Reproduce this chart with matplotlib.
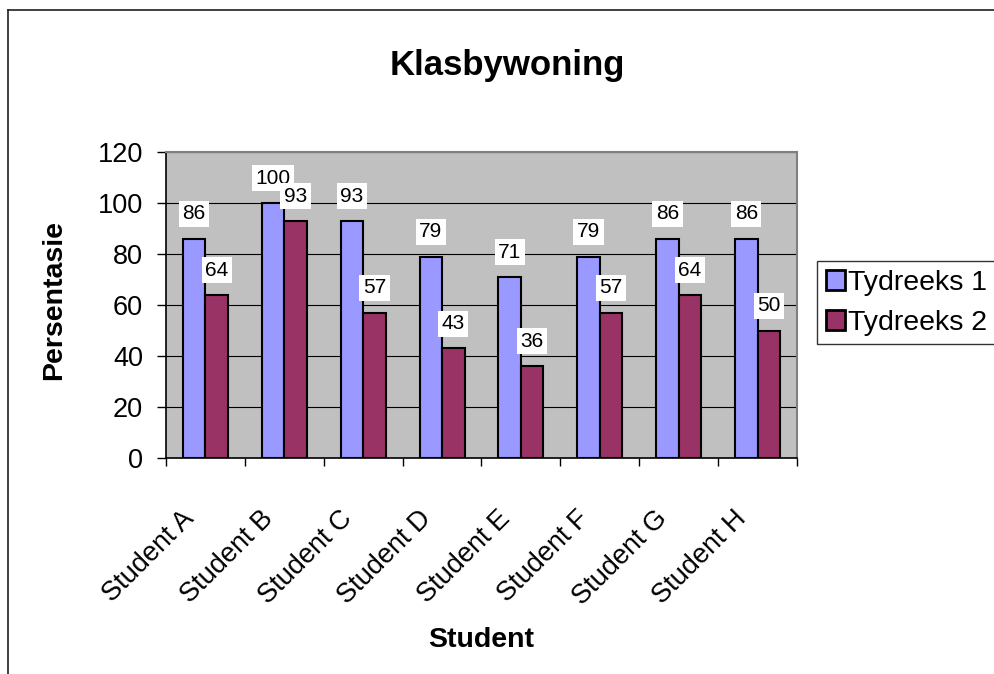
import matplotlib
matplotlib.use("Agg")
import matplotlib.pyplot as plt
import matplotlib.transforms as mtransforms
import numpy as np
from matplotlib.lines import Line2D
from matplotlib.patches import Patch

plt.rcParams['font.family'] = ['Liberation Sans', 'DejaVu Sans']

categories = ["Student A", "Student B", "Student C", "Student D",
              "Student E", "Student F", "Student G", "Student H"]
series1 = [86, 100, 93, 79, 71, 79, 86, 86]
series2 = [64, 93, 57, 43, 36, 57, 64, 50]
series_names = ["Tydreeks 1", "Tydreeks 2"]
yticks = [0, 20, 40, 60, 80, 100, 120]

W, H = 995, 674
fig = plt.figure(figsize=(W / 100, H / 100), dpi=100)
ax = fig.add_axes([166 / W, 1 - 458 / H, (797 - 166) / W, (458 - 152) / H])
ax.set_facecolor("#C0C0C0")

x = np.arange(len(categories))
bw = 1 / 3.5
b1 = ax.bar(x - bw / 2, series1, bw, color="#9999FF", edgecolor="black", linewidth=1.5, zorder=3)
b2 = ax.bar(x + bw / 2, series2, bw, color="#993366", edgecolor="black", linewidth=1.5, zorder=3)

ax.set_xlim(-0.5, len(categories) - 0.5)
ax.set_ylim(0, 120)
ax.set_yticks(yticks)
ax.set_yticklabels([str(v) for v in yticks], fontsize=19.5)
ax.grid(axis="y", color="black", linewidth=0.8, zorder=1)
ax.set_axisbelow(True)

ax.set_xticks(np.arange(len(categories) + 1) - 0.5)
ax.set_xticklabels([])
ax.set_xticks(x, minor=True)
ax.set_xticklabels(categories, minor=True, rotation=45, ha="right", va="top",
                   rotation_mode="anchor", fontsize=19.5)
ax.tick_params(axis="x", which="minor", length=0, pad=34)
ax.tick_params(axis="x", which="major", length=6, width=1, direction="out")
ax.tick_params(axis="y", length=6.5, width=1, direction="out", pad=10)
shift = mtransforms.ScaledTranslation(-24 / 100, 0, fig.dpi_scale_trans)
for lbl in ax.get_xticklabels(minor=True):
    lbl.set_transform(lbl.get_transform() + shift)

for s in ["top", "right"]:
    ax.spines[s].set_color("#808080")
    ax.spines[s].set_linewidth(1.5)
for s in ["left", "bottom"]:
    ax.spines[s].set_color("black")
    ax.spines[s].set_linewidth(1.2)

for bars, vals in ((b1, series1), (b2, series2)):
    for rect, v in zip(bars, vals):
        ax.annotate(str(v), (rect.get_x() + rect.get_width() / 2, v),
                    xytext=(0, 11), textcoords="offset points",
                    ha="center", va="bottom", fontsize=15, zorder=5,
                    bbox=dict(facecolor="white", edgecolor="none", pad=2.5))

fig.text(507.5 / W, 1 - 75 / H, "Klasbywoning", ha="center", va="baseline",
         fontsize=25, fontweight="bold")
fig.text(481 / W, 1 - 647 / H, "Student", ha="center", va="baseline",
         fontsize=20.5, fontweight="bold")
fig.text(54 / W, 1 - 300 / H, "Persentasie", ha="center", va="center",
         rotation=90, fontsize=20.5, fontweight="bold")

handles = [Patch(facecolor="#9999FF", edgecolor="black", linewidth=2),
           Patch(facecolor="#993366", edgecolor="black", linewidth=2)]
leg = fig.legend(handles, series_names, loc="upper left",
                 bbox_to_anchor=(817 / W, 1 - 261 / H), fontsize=20.5,
                 frameon=True, fancybox=False, handlelength=0.7, handleheight=0.7,
                 handletextpad=0.1, borderpad=0.3, labelspacing=0.5,
                 borderaxespad=0)
leg.get_frame().set_edgecolor("black")
leg.get_frame().set_linewidth(1.0)

fig.add_artist(Line2D([8 / W, 8 / W], [0, 1 - 10 / H], color="#202020", linewidth=1.2))
fig.add_artist(Line2D([8 / W, 1], [1 - 10 / H, 1 - 10 / H], color="#202020", linewidth=1.2))

fig.savefig("out.png", dpi=100)
